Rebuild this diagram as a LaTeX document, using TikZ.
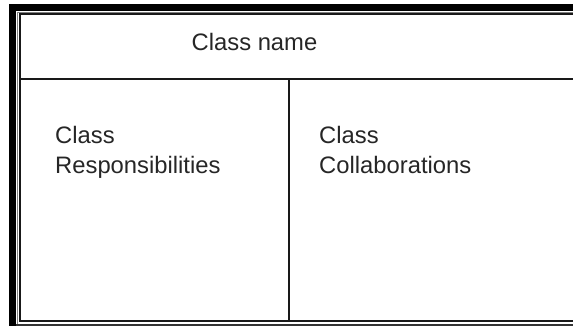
\documentclass[tikz,border=0pt]{standalone}
\usepackage{fontspec}
\setmainfont{Liberation Sans}
\begin{document}
\begin{tikzpicture}[x=1pt,y=-1pt,
  label/.style={inner sep=0pt, font=\fontsize{23.8}{30}\selectfont, text=black!85},
  rule/.style={line width=2pt, black!90}]
\useasboundingbox (0,0) rectangle (573,326);
\clip (0,0) rectangle (573,326);
% outer heavy frame (left and top)
\fill[black] (9,4) rectangle (580,11);
\fill[black] (9,4) rectangle (16,330);
% thin grey edge
\draw[gray, line width=1pt] (17.5,330) -- (17.5,12.5) -- (580,12.5);
% card outline
\coordinate (tl) at (20,14);
\coordinate (bl) at (20,321);
\coordinate (trr) at (580,14);
\coordinate (brr) at (580,321);
\draw[rule] (trr) -- (tl) -- (bl) -- (brr);
\draw[line width=1.8pt, black!80] (16,325) -- (580,325);
% dividers
\coordinate (hl) at (19,79);
\coordinate (hr) at (580,79);
\coordinate (vt) at (289,79);
\coordinate (vb) at (289,321);
\draw[rule] (hl) -- (hr);
\draw[rule] (vt) -- (vb);
% texts
\node[label, anchor=base] (name) at (254.5,51) {Class name};
\node[label, anchor=base west] (resp1) at (55,144) {Class};
\node[label, anchor=base west] (resp2) at (55,174) {Responsibilities};
\node[label, anchor=base west] (coll1) at (319,144) {Class};
\node[label, anchor=base west] (coll2) at (319,174) {Collaborations};
\end{tikzpicture}
\end{document}
